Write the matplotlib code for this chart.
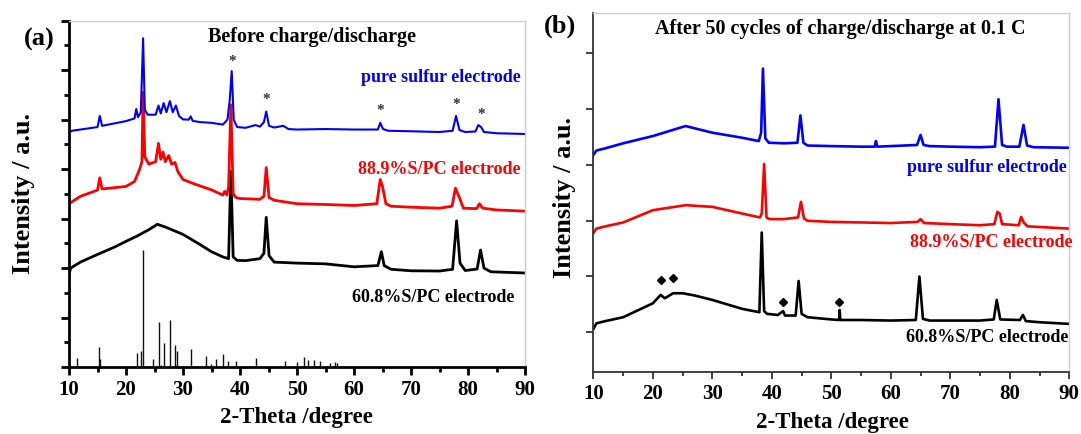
import matplotlib
matplotlib.use("Agg")
import matplotlib.pyplot as plt
from matplotlib.ticker import MultipleLocator, FixedLocator

plt.rcParams['font.family'] = ['Liberation Serif', 'DejaVu Serif']
plt.rcParams['font.weight'] = 'bold'

# ---------- panel (a): before charge/discharge ----------
a_blue_x = [10, 10.5, 12, 15.0, 15.4, 15.8, 18, 20, 21.5, 21.8, 22.1, 22.6, 23.0, 23.3, 23.8,
            25.2, 25.7, 26.1, 26.6, 27.1, 27.7, 28.2, 28.75, 29.3, 30, 31.0, 31.35, 31.7, 33, 35,
            37, 37.8, 38.2, 38.55, 38.9, 39.5, 41, 42.7, 43.5, 44.2, 44.6, 45.1, 46, 47.6, 48.5,
            50, 55, 60, 64.2, 64.6, 65.1, 66, 70, 75, 77.3, 77.9, 78.5, 79.5, 81.3, 81.8, 82.3,
            82.8, 85, 90]
a_blue_y = [9.46, 9.55, 9.6, 9.7, 10.15, 9.75, 9.85, 9.94, 10.05, 10.43, 10.1, 10.3, 13.29, 10.4,
            10.2, 10.2, 10.57, 10.25, 10.67, 10.3, 10.75, 10.3, 10.57, 10.15, 10.01, 10.0, 10.13,
            9.95, 9.9, 9.87, 9.8, 10.0, 10.8, 11.96, 10.0, 9.7, 9.67, 9.78, 9.72, 9.9, 10.33, 9.75,
            9.68, 9.75, 9.62, 9.6, 9.62, 9.6, 9.6, 9.87, 9.62, 9.55, 9.53, 9.5, 9.55, 10.15, 9.58,
            9.5, 9.52, 9.78, 9.7, 9.5, 9.45, 9.42]

a_red_x = [10, 12, 15.0, 15.4, 15.8, 18, 20, 21.5, 22.4, 22.8, 23.0, 23.3, 24.0, 25.2, 25.7,
           26.1, 26.5, 26.9, 27.5, 28.0, 28.6, 29.1, 30, 32, 35, 37, 37.3, 37.7, 38.0, 38.4,
           38.8, 39.3, 40, 43.5, 44.2, 44.6, 45.1, 46, 50, 55, 60, 64.0, 64.6, 65.0, 65.6, 66.5,
           70, 75, 77.2, 77.8, 78.4, 79.2, 81.5, 82.0, 82.6, 85, 90]
a_red_y = [6.6, 6.9, 7.15, 7.65, 7.2, 7.25, 7.3, 7.5, 8.0, 8.3, 11.1, 8.5, 8.2, 8.3, 9.04, 8.4,
           8.69, 8.3, 8.55, 8.2, 8.27, 7.9, 7.58, 7.4, 7.16, 6.95, 7.1, 6.95, 7.3, 10.6, 7.0,
           6.85, 6.81, 6.78, 6.9, 8.06, 6.85, 6.74, 6.6, 6.57, 6.53, 6.6, 7.58, 7.3, 6.6, 6.5,
           6.46, 6.42, 6.5, 7.23, 6.9, 6.42, 6.4, 6.6, 6.42, 6.35, 6.3]

a_black_x = [10, 10.3, 11, 12, 15, 18, 20, 22, 24, 25.5, 27, 30, 33, 35, 37, 38.0, 38.4, 38.8,
             39.5, 41, 43.5, 44.2, 44.6, 45.1, 46, 50, 55, 60, 64.2, 64.8, 65.3, 66.5, 70, 75,
             77.3, 78.0, 78.6, 79.5, 81.6, 82.2, 82.8, 84, 90]
a_black_y = [3.75, 4.0, 4.1, 4.24, 4.55, 4.85, 5.08, 5.3, 5.55, 5.77, 5.65, 5.36, 4.95, 4.66,
             4.45, 4.38, 7.9, 4.45, 4.31, 4.3, 4.38, 4.6, 6.05, 4.5, 4.24, 4.2, 4.17, 4.05, 4.1,
             4.66, 4.1, 3.95, 3.89, 3.88, 3.95, 5.91, 4.2, 3.9, 3.96, 4.73, 4.0, 3.85, 3.8]

# reference stick pattern (sulfur)
ref_pos = [11.33, 15.32, 15.5, 18.3, 21.2, 21.92, 22.58, 23.0, 24.82, 25.85, 26.2, 26.7, 27.67,
           28.63, 29.0, 31.36, 34.08, 34.92, 35.83, 37.04, 37.83, 39.34, 40.6, 42.79, 45.6,
           46.6, 47.81, 50.05, 51.26, 51.92, 53.07, 54.04, 55.86, 56.7, 57.07, 58.7, 61.0, 64.9,
           66.3, 70.0, 75.0]
ref_int = [0.37, 0.79, 0.34, 0.05, 0.06, 0.55, 0.66, 4.73, 0.34, 1.8, 0.1, 0.97, 1.9, 0.9, 0.65,
           0.73, 0.45, 0.13, 0.34, 0.51, 0.23, 0.26, 0.05, 0.38, 0.05, 0.06, 0.24, 0.2, 0.4,
           0.27, 0.3, 0.26, 0.17, 0.2, 0.16, 0.05, 0.04, 0.06, 0.04, 0.03, 0.03]

star_x = [38.55, 44.6, 64.6, 77.9, 82.3]
star_y = [12.1, 10.55, 10.1, 10.35, 9.95]

# ---------- panel (b): after 50 cycles ----------
b_blue_x = [10, 10.5, 12, 15, 20, 25.5, 30, 35, 37.8, 38.2, 38.5, 38.9, 39.5, 42, 44.3, 44.8,
            45.3, 46, 50, 55, 57.3, 57.5, 57.7, 60, 64.4, 65.0, 65.5, 66.5, 70, 75, 77.5, 78.1,
            78.7, 79.5, 81.6, 82.3, 82.9, 84, 90]
b_blue_y = [3.9, 3.98, 4.02, 4.11, 4.24, 4.42, 4.3, 4.21, 4.15, 4.3, 5.45, 4.2, 4.12, 4.11,
            4.12, 4.61, 4.12, 4.07, 4.06, 4.05, 4.05, 4.15, 4.05, 4.06, 4.08, 4.26, 4.08, 4.06,
            4.05, 4.04, 4.05, 4.9, 4.08, 4.05, 4.05, 4.44, 4.07, 4.04, 4.03]

b_red_x = [10, 10.5, 12, 15, 20, 25.5, 30, 35, 38.0, 38.3, 38.7, 39.1, 39.6, 42, 44.4, 44.9,
           45.4, 46, 50, 55, 60, 64.5, 65.0, 65.6, 70, 75, 77.4, 77.9, 78.3, 78.7, 81.5, 81.9,
           82.4, 83, 90]
b_red_y = [2.5, 2.58, 2.62, 2.69, 2.91, 3.0, 2.97, 2.85, 2.78, 2.85, 3.74, 2.78, 2.75, 2.75,
           2.78, 3.06, 2.76, 2.72, 2.7, 2.69, 2.68, 2.7, 2.75, 2.68, 2.66, 2.64, 2.66, 2.88,
           2.85, 2.66, 2.64, 2.79, 2.68, 2.62, 2.58]

b_black_x = [10, 10.5, 12, 15, 20, 21.3, 22, 23.4, 25, 27, 30, 35, 37.9, 38.3, 38.7, 39.2, 41,
             41.9, 42.2, 44.0, 44.5, 45.0, 46, 50, 51.3, 51.4, 51.5, 55, 60, 64.2, 64.8, 65.4,
             66.5, 70, 75, 77.3, 77.8, 78.4, 81.7, 82.2, 82.7, 85, 90]
b_black_y = [0.78, 0.88, 0.92, 0.99, 1.24, 1.39, 1.33, 1.42, 1.42, 1.38, 1.3, 1.14, 1.08, 2.51,
             1.1, 1.05, 1.03, 1.1, 1.02, 1.02, 1.64, 1.05, 0.99, 0.95, 0.94, 1.12, 0.94, 0.94,
             0.93, 0.94, 1.72, 0.96, 0.93, 0.93, 0.93, 0.95, 1.3, 0.95, 0.94, 1.03, 0.92, 0.9, 0.87]

diamond_x = [21.3, 23.45, 41.9, 51.3]
diamond_y = [1.66, 1.69, 1.27, 1.27]

W, H = 1081, 434
fig = plt.figure(figsize=(W / 100, H / 100), dpi=100)


def fx(px):
    return px / W


def fy(py):
    return 1 - py / H


ax1 = fig.add_axes([fx(69), fy(367), fx(525) - fx(69), fy(20.7) - fy(367)])
ax2 = fig.add_axes([fx(593.4), fy(372.4), fx(1069.3) - fx(593.4), fy(13.1) - fy(372.4)])

# panel a
ax1.vlines(ref_pos, 0, ref_int, color='#111111', lw=1.0)
ax1.plot(a_black_x, a_black_y, color='black', lw=2.0)
ax1.plot(a_red_x, a_red_y, color='red', lw=2.0)
ax1.plot(a_blue_x, a_blue_y, color='blue', lw=1.5)
for x, y in zip(star_x, star_y):
    ax1.text(x, y, '*', color='#333333', fontsize=11, ha='center', va='bottom')
ax1.set_xlim(10, 90)
ax1.set_ylim(0, 14)
ax1.xaxis.set_major_locator(MultipleLocator(10))
ax1.xaxis.set_minor_locator(MultipleLocator(5))
ax1.yaxis.set_major_locator(MultipleLocator(2))
ax1.yaxis.set_minor_locator(MultipleLocator(1))
ax1.set_yticklabels([])
ax1.tick_params(axis='both', which='major', direction='out', length=6, width=2, labelsize=15)
ax1.tick_params(axis='both', which='minor', direction='out', length=3.5, width=2)
for s in ['left', 'bottom']:
    ax1.spines[s].set_linewidth(2)
for s in ['top', 'right']:
    ax1.spines[s].set_color('#cccccc')
    ax1.spines[s].set_linewidth(1)

# panel b
ax2.plot(b_black_x, b_black_y, color='black', lw=1.9)
ax2.plot(b_red_x, b_red_y, color='red', lw=1.9)
ax2.plot(b_blue_x, b_blue_y, color='blue', lw=1.9)
ax2.plot(diamond_x, diamond_y, 'D', color='black', ms=4.5, ls='none')
ax2.set_xlim(10, 90)
ax2.set_ylim(0, 6.446)
ax2.xaxis.set_major_locator(MultipleLocator(10))
ax2.xaxis.set_minor_locator(MultipleLocator(5))
ax2.yaxis.set_major_locator(FixedLocator([0.723 + k for k in range(6)]))
ax2.set_yticklabels([])
ax2.tick_params(axis='both', which='major', direction='out', length=5, width=1.3, labelsize=15,
                color='#333333')
ax2.tick_params(axis='x', which='minor', direction='out', length=3, width=1.3, color='#333333')
for s in ['left', 'bottom']:
    ax2.spines[s].set_linewidth(1.3)
    ax2.spines[s].set_color('#333333')
for s in ['top', 'right']:
    ax2.spines[s].set_color('#cccccc')
    ax2.spines[s].set_linewidth(1)

# texts
fig.text(fx(39), fy(39), '(a)', fontsize=19, ha='center', va='center')
fig.text(fx(312), fy(37), 'Before charge/discharge', fontsize=14.5, ha='center', va='center')
fig.text(fx(521), fy(77), 'pure sulfur electrode', color='blue', fontsize=13, ha='right', va='center')
fig.text(fx(521), fy(169), '88.9%S/PC electrode', color='red', fontsize=13, ha='right', va='center')
fig.text(fx(514), fy(297), '60.8%S/PC electrode', color='black', fontsize=13, ha='right', va='center')
fig.text(fx(24), fy(194), 'Intensity / a.u.', fontsize=19, rotation=90, ha='center', va='center')
fig.text(fx(296), fy(423), '2-Theta /degree', fontsize=16.5, ha='center', va='baseline')

fig.text(fx(560), fy(26), '(b)', fontsize=19, ha='center', va='center')
fig.text(fx(840), fy(29), 'After 50 cycles of charge/discharge at 0.1 C', fontsize=14.5,
         ha='center', va='center')
fig.text(fx(1067), fy(168), 'pure sulfur electrode', color='blue', fontsize=13, ha='right', va='center')
fig.text(fx(1072), fy(243), '88.9%S/PC electrode', color='red', fontsize=13, ha='right', va='center')
fig.text(fx(1068), fy(338), '60.8%S/PC electrode', color='black', fontsize=13, ha='right', va='center')
fig.text(fx(565), fy(197), 'Intensity / a.u.', fontsize=19, rotation=90, ha='center', va='center')
fig.text(fx(832), fy(428), '2-Theta /degree', fontsize=16.5, ha='center', va='baseline')

fig.savefig('out.png', dpi=100)
